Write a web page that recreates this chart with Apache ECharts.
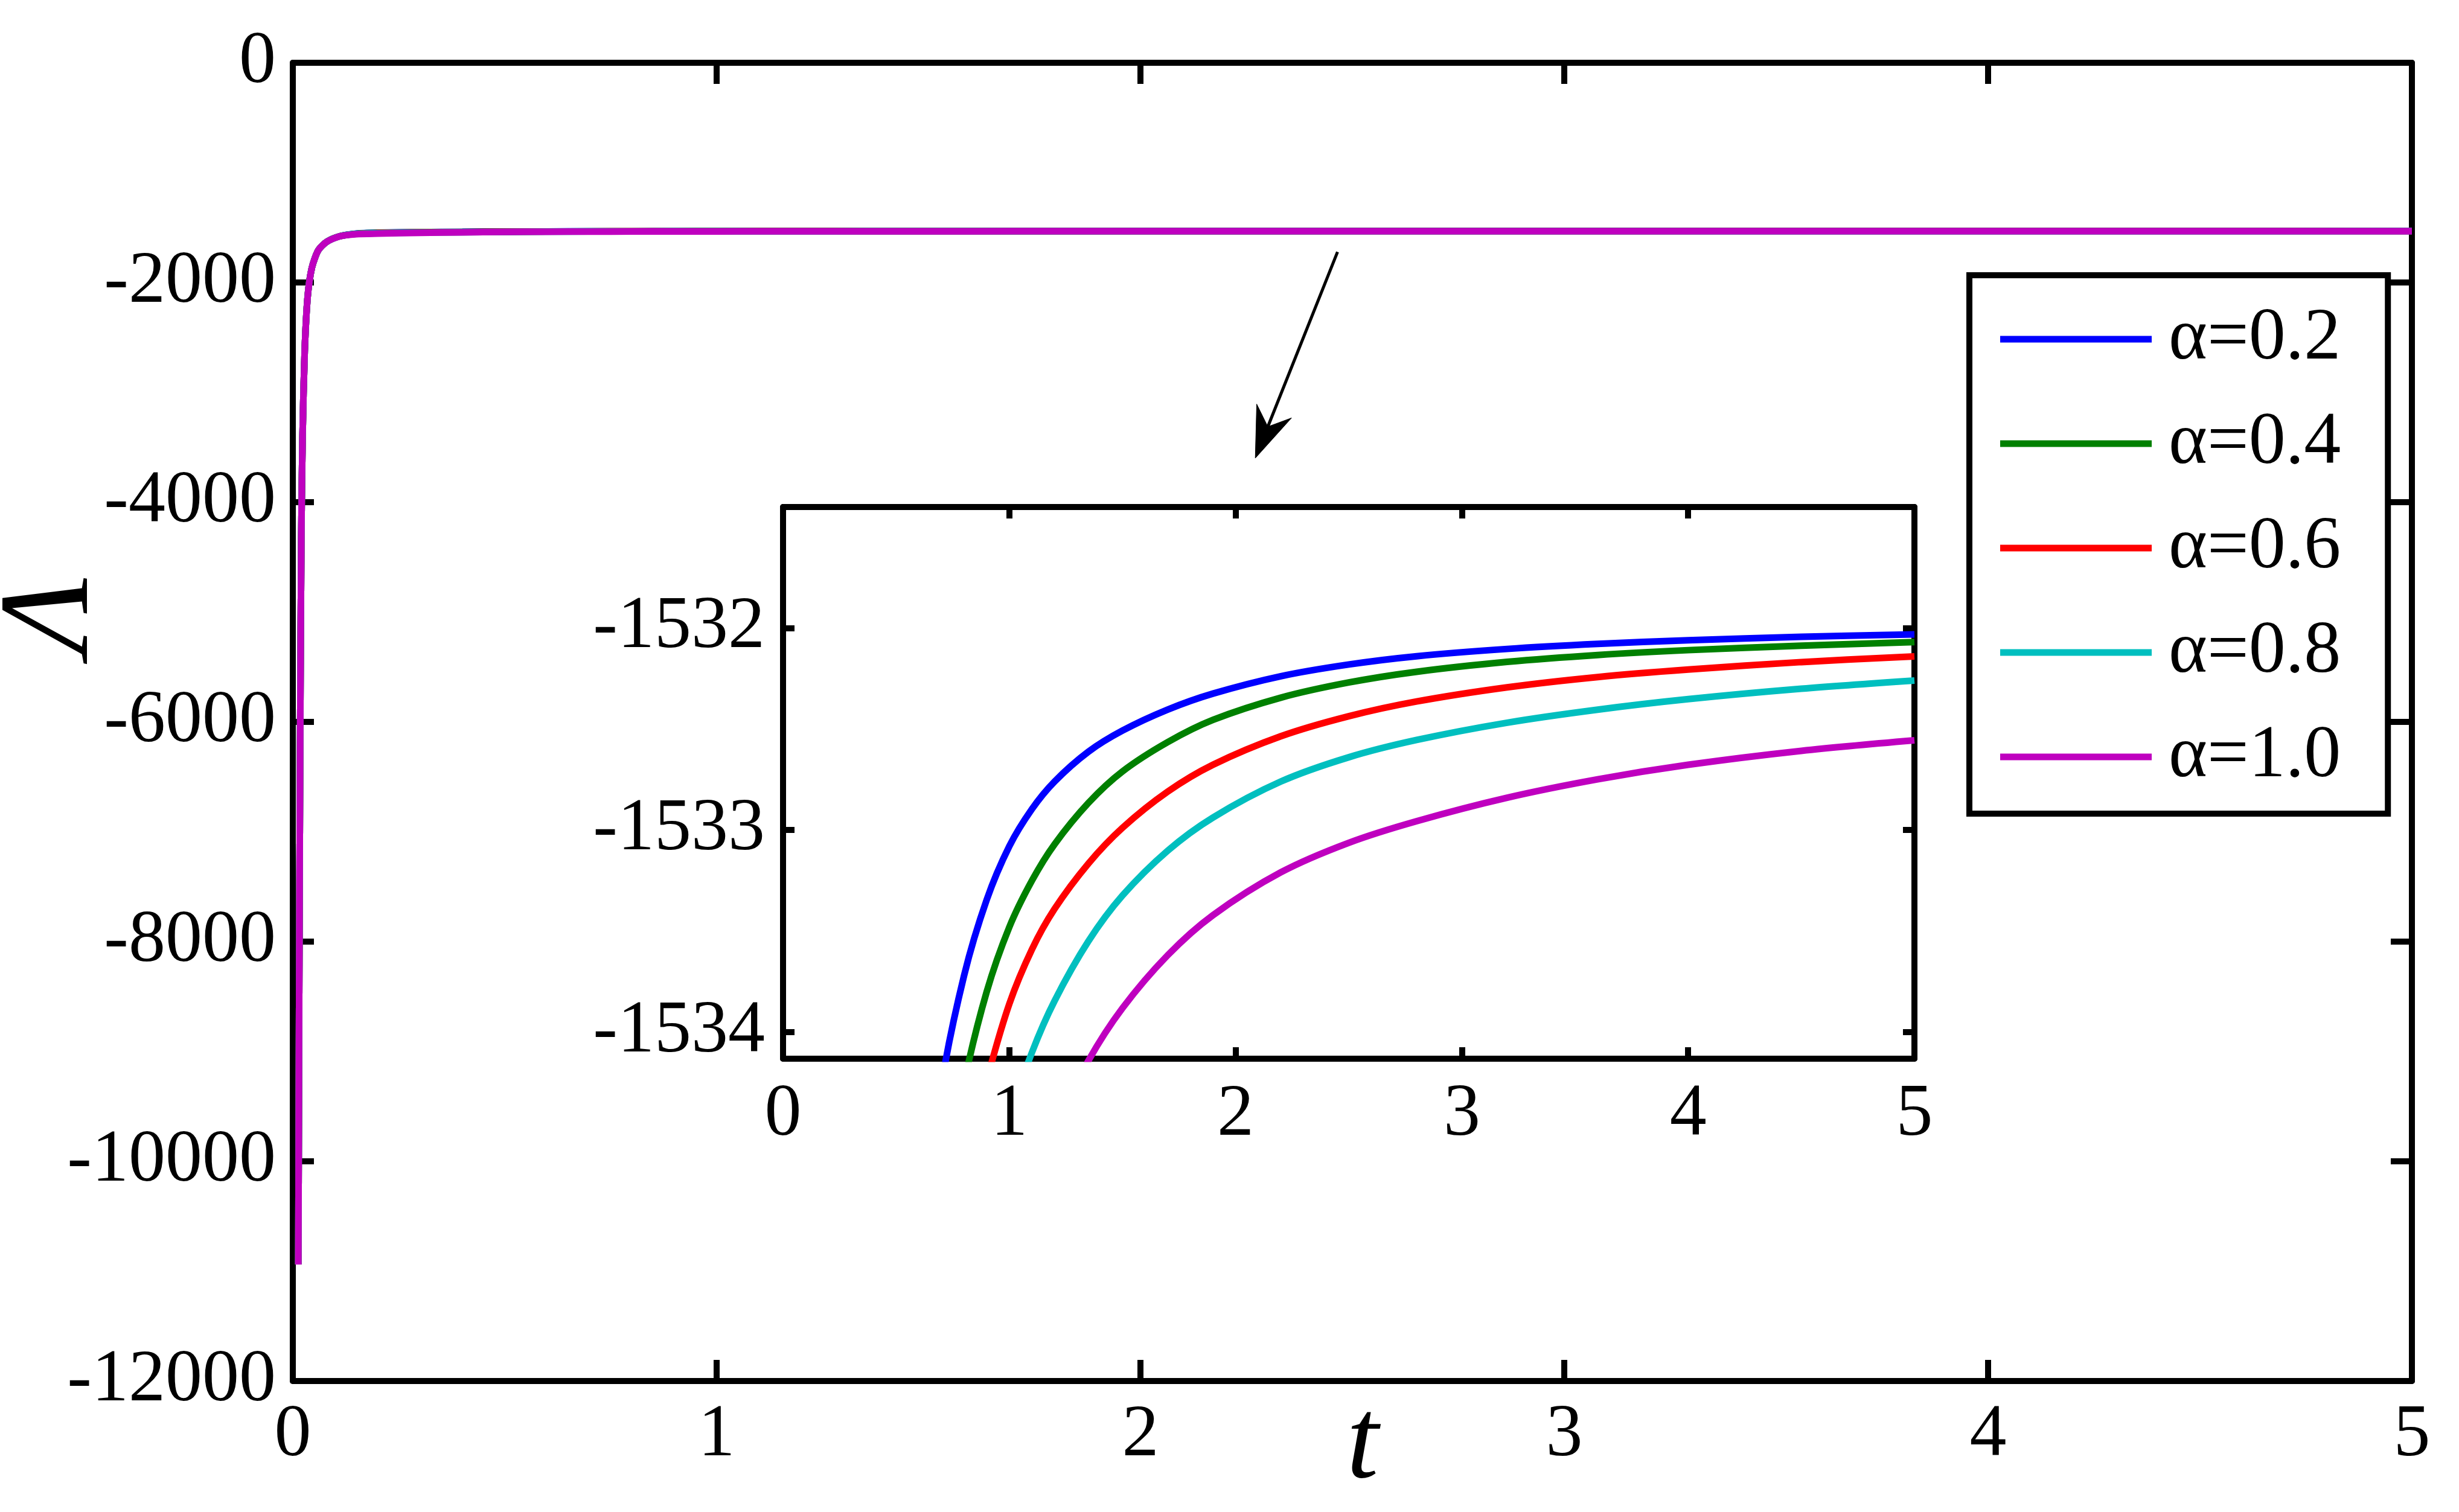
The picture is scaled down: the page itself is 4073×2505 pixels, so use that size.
<!DOCTYPE html>
<html><head><meta charset="utf-8">
<script src="https://cdn.jsdelivr.net/npm/echarts@6/dist/echarts.min.js"></script>
<style>html,body{margin:0;padding:0;background:#fff}#c{width:4073px;height:2505px}</style>
</head><body><div id="c"></div>
<script>
// ---- data ----
const tGrid = [0.013,0.015,0.017,0.02,0.023,0.028,0.035,0.045,0.06,0.08,0.11,
  0.15,0.2,0.3,0.4,0.5,0.6,
  0.7,0.8,0.9,1.0,1.1,1.2,1.35,1.5,1.7,1.9,2.2,2.5,2.8,3.2,3.6,4.0,4.5,5.0];
const lam02 = [-10940,-8500,-6480,-4350,-3400,-2630,-2130,-1865,-1708,-1630,-1580,
  -1555,-1547,-1542,-1539.1,-1536.5,-1535.1,
  -1534.26,-1533.72,-1533.345,-1533.08,-1532.896,-1532.76,-1532.612,-1532.508,-1532.404,-1532.325,-1532.239,-1532.181,-1532.14,-1532.104,-1532.079,-1532.061,-1532.044,-1532.032];
const lam04 = [-10940,-8500,-6480,-4350,-3400,-2630,-2130,-1865,-1708,-1630,-1580,
  -1556,-1548.5,-1543,-1539.9,-1537.5,-1535.7,
  -1534.85,-1534.25,-1533.80,-1533.48,-1533.25,-1533.07,-1532.865,-1532.71,-1532.565,-1532.455,-1532.345,-1532.27,-1532.217,-1532.168,-1532.134,-1532.11,-1532.088,-1532.07];
const lam06 = [-10940,-8500,-6480,-4350,-3400,-2630,-2130,-1865,-1708,-1630,-1580,
  -1557,-1550,-1544.5,-1540.8,-1538.0,-1536.3,
  -1535.35,-1534.70,-1534.24,-1533.86,-1533.59,-1533.39,-1533.165,-1532.989,-1532.81,-1532.677,-1532.536,-1532.437,-1532.364,-1532.294,-1532.243,-1532.206,-1532.169,-1532.141];
const lam08 = [-10940,-8500,-6480,-4350,-3400,-2630,-2130,-1865,-1708,-1630,-1580,
  -1558,-1552,-1546,-1542,-1539.3,-1537.3,
  -1536.16,-1535.40,-1534.844,-1534.426,-1534.10,-1533.845,-1533.549,-1533.324,-1533.102,-1532.938,-1532.76,-1532.64,-1532.5545,-1532.469,-1532.4045,-1532.3525,-1532.301,-1532.2605];
const lam10 = [-10940,-8500,-6480,-4350,-3400,-2630,-2130,-1865,-1708,-1630,-1580,
  -1560,-1555,-1548,-1543.5,-1540.3,-1538.1,
  -1536.99,-1536.18,-1535.584,-1535.127,-1534.768,-1534.479,-1534.14,-1533.881,-1533.619,-1533.421,-1533.209,-1533.063,-1532.956,-1532.84,-1532.749,-1532.677,-1532.608,-1532.556];
const seriesNames = ['α=0.2','α=0.4','α=0.6','α=0.8','α=1.0'];
const colors = ['#0000FF','#008000','#FF0000','#00BFBF','#BF00BF'];
const mainXRange = [0, 5];
const mainYRange = [-12000, 0];
const insetXRange = [0, 5];
const insetYRange = [-1534.131, -1531.402];
const insetYTicks = [-1534, -1533, -1532];
const arrowStart = [2.465, -1722];
const arrowTip = [2.271, -3599];

// ---- chart ----
const FONT = '"Liberation Serif", "Times New Roman", serif';
const allVals = [lam02, lam04, lam06, lam08, lam10];
const pairs = vals => tGrid.map((t, i) => [t, vals[i]]);
const fmt = v => String(v);

function axis(extra, tickLen, showLabel, margin) {
  return Object.assign({
    type: 'value',
    axisLine: { show: true, onZero: false, lineStyle: { color: '#000', width: 10 } },
    axisTick: { show: true, inside: true, length: tickLen, lineStyle: { color: '#000', width: 10 } },
    axisLabel: { show: showLabel, fontSize: 122, fontFamily: FONT, color: '#000', margin: margin,
                 formatter: fmt, showMinLabel: true, showMaxLabel: true },
    splitLine: { show: false }
  }, extra);
}

const chart = echarts.init(document.getElementById('c'), null, { renderer: 'canvas' });

const series = [];
allVals.forEach((vals, i) => {
  series.push({ name: seriesNames[i], type: 'line', xAxisIndex: 0, yAxisIndex: 0,
    data: pairs(vals), showSymbol: false, symbol: 'none', smooth: 0.25,
    lineStyle: { color: colors[i], width: 11 }, itemStyle: { color: colors[i] }, clip: true });
});
allVals.forEach((vals, i) => {
  series.push({ name: seriesNames[i], type: 'line', xAxisIndex: 2, yAxisIndex: 2,
    data: pairs(vals), showSymbol: false, symbol: 'none', smooth: 0.33, smoothConstraint: false,
    lineStyle: { color: colors[i], width: 11 }, itemStyle: { color: colors[i] }, clip: true });
});

chart.setOption({
  animation: false,
  backgroundColor: '#fff',
  grid: [
    { left: 485, top: 104, width: 3510, height: 2184 },
    { left: 1297, top: 840, width: 1874, height: 914 }
  ],
  xAxis: [
    axis({ gridIndex: 0, position: 'bottom', min: mainXRange[0], max: mainXRange[1], interval: 1 }, 35, true, 30),
    axis({ gridIndex: 0, position: 'top', min: mainXRange[0], max: mainXRange[1], interval: 1 }, 35, false, 30),
    axis({ gridIndex: 1, position: 'bottom', min: insetXRange[0], max: insetXRange[1], interval: 1 }, 19, true, 33),
    axis({ gridIndex: 1, position: 'top', min: insetXRange[0], max: insetXRange[1], interval: 1 }, 19, false, 33)
  ],
  yAxis: [
    axis({ gridIndex: 0, position: 'left', min: mainYRange[0], max: mainYRange[1], interval: 2000 }, 35, true, 28),
    axis({ gridIndex: 0, position: 'right', min: mainYRange[0], max: mainYRange[1], interval: 2000 }, 35, false, 28),
    (function () {
      const a = axis({ gridIndex: 1, position: 'left', min: insetYRange[0], max: insetYRange[1] }, 19, true, 30);
      a.axisTick.customValues = insetYTicks; a.axisLabel.customValues = insetYTicks; return a;
    })(),
    (function () {
      const a = axis({ gridIndex: 1, position: 'right', min: insetYRange[0], max: insetYRange[1] }, 19, false, 30);
      a.axisTick.customValues = insetYTicks; a.axisLabel.customValues = insetYTicks; return a;
    })()
  ],
  legend: {
    data: seriesNames, orient: 'vertical', left: 3262, top: 456,
    icon: 'rect', itemWidth: 251, itemHeight: 11, itemGap: 23,
    padding: [31, 78, 19, 51],
    borderColor: '#000', borderWidth: 10, backgroundColor: '#fff',
    textStyle: { fontSize: 122, fontFamily: FONT, color: '#000', lineHeight: 130, padding: [20, 0, 0, 23] },
    selectedMode: false
  },
  series: series
});

const p0 = chart.convertToPixel({ xAxisIndex: 0, yAxisIndex: 0 }, arrowStart);
const p1 = chart.convertToPixel({ xAxisIndex: 0, yAxisIndex: 0 }, arrowTip);
const dx = p1[0] - p0[0], dy = p1[1] - p0[1], L = Math.hypot(dx, dy);
const u = [dx / L, dy / L], n = [-u[1], u[0]];
const headLen = 84, headHalf = 31, notch = 56;
const b1 = [p1[0] - headLen * u[0] + headHalf * n[0], p1[1] - headLen * u[1] + headHalf * n[1]];
const b2 = [p1[0] - headLen * u[0] - headHalf * n[0], p1[1] - headLen * u[1] - headHalf * n[1]];
const nc = [p1[0] - notch * u[0], p1[1] - notch * u[1]];

chart.setOption({
  graphic: [
    { type: 'text', id: 'ylab', x: 89, y: 1020, rotation: Math.PI / 2,
      style: { text: 'Λ', fontSize: 211, fontFamily: FONT, fontStyle: 'italic', fill: '#000',
               align: 'center', verticalAlign: 'middle', textAlign: 'center', textVerticalAlign: 'middle' } },
    { type: 'text', id: 'xlab', x: 2257, y: 2397,
      style: { text: 't', fontSize: 190, fontFamily: FONT, fontStyle: 'italic', fill: '#000',
               align: 'center', verticalAlign: 'middle', textAlign: 'center', textVerticalAlign: 'middle' } },
    { type: 'line', id: 'shaft', shape: { x1: p0[0], y1: p0[1], x2: nc[0], y2: nc[1] },
      style: { stroke: '#000', lineWidth: 5 } },
    { type: 'polygon', id: 'head', shape: { points: [p1, b1, nc, b2] },
      style: { fill: '#000', stroke: '#000', lineWidth: 1 } }
  ]
});
</script>
</body></html>
